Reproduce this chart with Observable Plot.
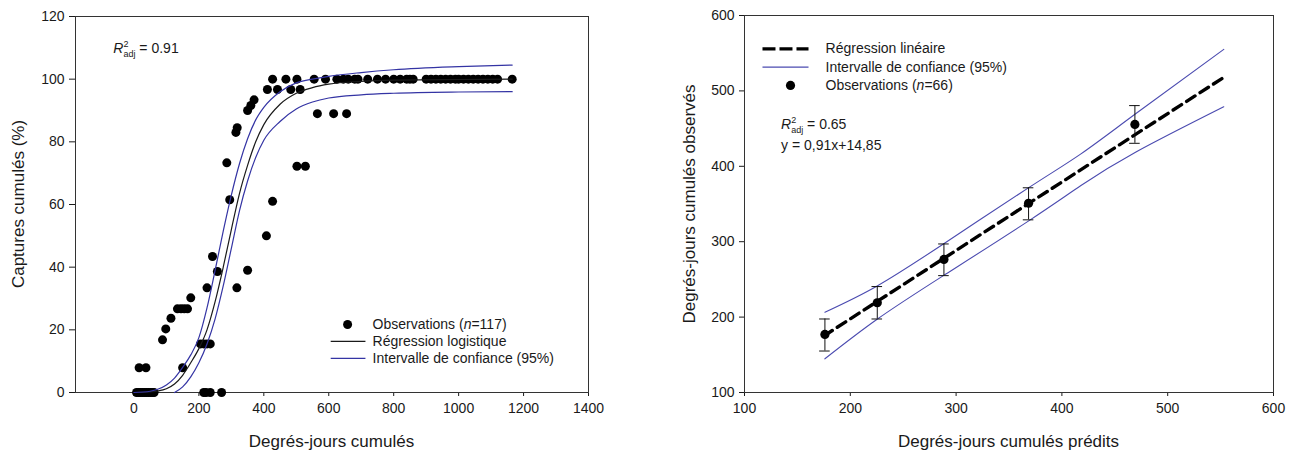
<!DOCTYPE html>
<html><head><meta charset="utf-8">
<script src="https://cdn.jsdelivr.net/npm/d3@7"></script>
<script src="https://cdn.jsdelivr.net/npm/@observablehq/plot@0.6"></script>
<style>
html,body{margin:0;padding:0;background:#fff;overflow:hidden;}
#wrap{position:relative;width:1290px;height:452px;}
#left{position:absolute;left:0;top:0;}
#right{position:absolute;left:645px;top:0;}
</style></head><body><div id="wrap"><div id="left"></div><div id="right"></div></div>
<script>
const FONT = '"Liberation Sans", Arial, Helvetica, sans-serif';

// ---------- Left panel data ----------
const obsX = [8,14,20,26,32,38,44,50,56,62,215,222,235,270,
  16,37,150, 88, 98, 114, 134,145,155,165, 175, 205,215,225,235,
  225, 242, 257, 295, 286, 314, 318, 350, 360, 370, 317, 350, 408, 427, 502, 528,
  411,442,483,512, 565,615,655,
  427,468,502,555,590,625,645,660,680,690,720,750,775,800,820,840,850,860,900,915,930,945,960,975,990,1000,1015,1030,1045,1060,1075,1090,1105,1120,1165];
const obsY = [0,0,0,0,0,0,0,0,0,0,0,0,0,0,
  7.9,7.9,7.9, 16.8, 20.3, 23.7, 26.7,26.7,26.7,26.7, 30.2, 15.5,15.5,15.5,15.5,
  33.4, 43.4, 38.6, 61.5, 73.3, 83, 84.5, 90, 91.6, 93.4, 33.4, 39, 50, 61, 72.2, 72.2,
  96.7,96.7,96.7,96.7, 89,89,89,
  100,100,100,100,100,100,100,100,100,100,100,100,100,100,100,100,100,100,100,100,100,100,100,100,100,100,100,100,100,100,100,100,100,100,100];
const fitX   = [0, 50, 75, 100, 125, 150, 175, 200, 225, 250, 275, 300, 325, 350, 375, 400, 450, 500, 550, 600, 700, 800, 1000, 1165];
const fitY   = [0, 0.2, 0.5, 1.2, 2.7, 5.5, 9.5, 14, 20, 29, 40, 52, 63.5, 72.5, 80, 85.5, 92, 95.5, 97.3, 98.4, 99.3, 99.7, 99.9, 100];
const upperY = [0, 0.4, 1.1, 2.4, 4.6, 8, 12, 17.5, 27, 39, 51.5, 63, 73, 81, 87, 91, 96, 98.8, 100, 100.9, 102.1, 103, 104, 104.5];
const lowerX = [125, 150, 175, 200, 225, 250, 275, 300, 325, 350, 375, 400, 450, 500, 550, 600, 700, 800, 1000, 1165];
const lowerY = [0, 1.8, 5, 9.5, 15.5, 23.5, 34, 46, 58, 67.5, 75, 80.5, 86.5, 90.5, 92.7, 94, 95, 95.5, 95.9, 96];
const leftXTicks = [0,200,400,600,800,1000,1200,1400];
const leftYTicks = [0,20,40,60,80,100,120];
const leftLegend = ["Observations (n=117)", "Régression logistique", "Intervalle de confiance (95%)"];
const leftR2 = "0.91";
const leftXTitle = "Degrés-jours cumulés";
const leftYTitle = "Captures cumulés (%)";

// ---------- Right panel data ----------
const predX   = [176, 225.5, 288.5, 368.5, 469];
const obsMean = [177, 219, 276.5, 351, 455.5];
const errLow  = [155, 197.5, 255, 329, 430.5];
const errHigh = [197.5, 240.5, 297, 371.5, 480.5];
const regX = [175, 553];
const regY = [175, 518];
const ciX     = [176, 225, 288, 369, 418, 470, 553];
const ciUpper = [206.5, 241, 297, 372, 416.5, 470, 555];
const ciLower = [144.7, 196.8, 255, 328, 374.5, 419, 479];
const rightTicks = [100,200,300,400,500,600];
const rightLegend = ["Régression linéaire", "Intervalle de confiance (95%)", "Observations (n=66)"];
const rightR2 = "0.65";
const rightEq = "y = 0,91x+14,85";
const rightXTitle = "Degrés-jours cumulés prédits";
const rightYTitle = "Degrés-jours cumulés observés";

const TXT = "#1a1a1a";
const BLUE_L = "#3434a4";
const BLUE_R = "#4b4bb0";

// ---------- Left plot ----------
const obs = obsX.map((x,i)=>({x, y: obsY[i]}));
const fit = fitX.map((x,i)=>({x, y: fitY[i], u: upperY[i]}));
const low = lowerX.map((x,i)=>({x, y: lowerY[i]}));
const lRows = leftLegend.map((label,i)=>({label, i}));
const lTop = 21.7, lStep = 5.4;

const leftPlot = Plot.plot({
  width: 645, height: 452,
  marginLeft: 75, marginRight: 57, marginTop: 16, marginBottom: 60,
  style: {fontFamily: FONT, fontSize: "14px", color: TXT, background: "white", overflow: "visible"},
  x: {domain: [-180, 1400], ticks: leftXTicks, tickFormat: d => String(d), tickSize: 4, tickPadding: 7, label: null},
  y: {domain: [0, 120], ticks: leftYTicks, tickFormat: d => String(d), tickSize: 6, tickPadding: 5, label: null},
  marks: [
    Plot.frame({stroke: "#333", strokeWidth: 1}),
    Plot.dot(obs, {x: "x", y: "y", r: 4.5, fill: "#000", stroke: "none"}),
    Plot.line(fit, {x: "x", y: "y", stroke: TXT, strokeWidth: 1.2, curve: "monotone-x"}),
    Plot.line(fit, {x: "x", y: "u", stroke: BLUE_L, strokeWidth: 1.2, curve: "monotone-x"}),
    Plot.line(low, {x: "x", y: "y", stroke: BLUE_L, strokeWidth: 1.2, curve: "monotone-x"}),
    // legend
    Plot.dot(lRows.filter(d=>d.i===0), {x: () => 658, y: d => lTop - d.i*lStep, r: 4.5, fill: "#000"}),
    Plot.link(lRows.filter(d=>d.i>0), {x1: () => 606, x2: () => 713, y1: d => lTop - d.i*lStep, y2: d => lTop - d.i*lStep,
      stroke: d => d.i === 1 ? TXT : BLUE_L, strokeWidth: 1.2}),
    Plot.text(lRows, {x: () => 735, y: d => lTop - d.i*lStep, text: "label", textAnchor: "start", fontSize: 14, fill: TXT})
  ]
});
document.getElementById("left").appendChild(leftPlot);

// ---------- Right plot ----------
const pts = predX.map((x,i)=>({x, y: obsMean[i], lo: errLow[i], hi: errHigh[i]}));
const reg = regX.map((x,i)=>({x, y: regY[i]}));
const ci = ciX.map((x,i)=>({x, u: ciUpper[i], l: ciLower[i]}));
const rRows = rightLegend.map((label,i)=>({label, i}));
const rTop = 555.8, rStep = 24.3, cap = 5;

const rightPlot = Plot.plot({
  width: 645, height: 452,
  marginLeft: 99, marginRight: 17, marginTop: 15, marginBottom: 60,
  style: {fontFamily: FONT, fontSize: "14px", color: TXT, background: "white", overflow: "visible"},
  x: {domain: [100, 600], ticks: rightTicks, tickFormat: d => String(d), tickSize: 4, tickPadding: 7, label: null},
  y: {domain: [100, 600], ticks: rightTicks, tickFormat: d => String(d), tickSize: 5, tickPadding: 5, label: null},
  marks: [
    Plot.frame({stroke: "#333", strokeWidth: 1}),
    Plot.line(ci, {x: "x", y: "u", stroke: BLUE_R, strokeWidth: 1.1, curve: "natural"}),
    Plot.line(ci, {x: "x", y: "l", stroke: BLUE_R, strokeWidth: 1.1, curve: "natural"}),
    Plot.line(reg, {x: "x", y: "y", stroke: "#000", strokeWidth: 3.4, strokeDasharray: "10,6"}),
    Plot.ruleX(pts, {x: "x", y1: "lo", y2: "hi", stroke: "#111", strokeWidth: 1}),
    Plot.ruleY(pts, {x1: d => d.x - cap, x2: d => d.x + cap, y: "lo", stroke: "#111", strokeWidth: 1}),
    Plot.ruleY(pts, {x1: d => d.x - cap, x2: d => d.x + cap, y: "hi", stroke: "#111", strokeWidth: 1}),
    Plot.dot(pts, {x: "x", y: "y", r: 4.6, fill: "#000"}),
    // legend
    Plot.link(rRows.filter(d=>d.i===0), {x1: () => 117, x2: () => 160.5, y1: d => rTop - d.i*rStep, y2: d => rTop - d.i*rStep,
      stroke: "#000", strokeWidth: 3.4, strokeDasharray: "13,4"}),
    Plot.link(rRows.filter(d=>d.i===1), {x1: () => 117, x2: () => 160.5, y1: d => rTop - d.i*rStep, y2: d => rTop - d.i*rStep,
      stroke: BLUE_R, strokeWidth: 1.1}),
    Plot.dot(rRows.filter(d=>d.i===2), {x: () => 143.5, y: d => rTop - d.i*rStep, r: 4.6, fill: "#000"}),
    Plot.text(rRows, {x: () => 176.6, y: d => rTop - d.i*rStep, text: "label", textAnchor: "start", fontSize: 14, fill: TXT})
  ]
});
document.getElementById("right").appendChild(rightPlot);

// ---------- Text decorations ----------
function italicN(svg) {
  d3.select(svg).selectAll("text").each(function() {
    const s = this.textContent;
    const m = s.match(/^(.*\()n(=.*)$/);
    if (m && this.children.length === 0) {
      const t = d3.select(this);
      t.text(null);
      t.append("tspan").text(m[1]);
      t.append("tspan").attr("font-style", "italic").text("n");
      t.append("tspan").text(m[2]);
    }
  });
}
italicN(leftPlot); italicN(rightPlot);

function r2(svg, px, py, value) {
  const t = d3.select(svg).append("text").attr("x", px).attr("y", py).attr("text-anchor", "start")
    .attr("font-family", FONT).attr("font-size", 14).attr("fill", TXT);
  t.append("tspan").attr("font-style", "italic").text("R");
  t.append("tspan").attr("font-size", 9).attr("dy", -6).text("2");
  t.append("tspan").attr("font-size", 9).attr("dx", -5).attr("dy", 10).text("adj");
  t.append("tspan").attr("dy", -4).text(" = " + value);
}
function plainText(svg, px, py, s) {
  d3.select(svg).append("text").attr("x", px).attr("y", py).attr("text-anchor", "start")
    .attr("font-family", FONT).attr("font-size", 14).attr("fill", TXT).text(s);
}
function titles(svg, xt, yt, xc, yx) {
  const g = d3.select(svg);
  g.append("text").attr("x", xc).attr("y", 447).attr("text-anchor", "middle")
    .attr("font-family", FONT).attr("font-size", 17).attr("fill", TXT).text(xt);
  g.append("text").attr("transform", `translate(${yx},204) rotate(-90)`).attr("text-anchor", "middle")
    .attr("dy", "0.35em").attr("font-family", FONT).attr("font-size", 17).attr("fill", TXT).text(yt);
}
{
  const sx = leftPlot.scale("x"), sy = leftPlot.scale("y");
  r2(leftPlot, sx.apply(-62), sy.apply(108.3), leftR2);
  titles(leftPlot, leftXTitle, leftYTitle, (sx.apply(-180) + sx.apply(1400)) / 2, 18);
}
{
  const sx = rightPlot.scale("x"), sy = rightPlot.scale("y");
  r2(rightPlot, sx.apply(135), sy.apply(449), rightR2);
  plainText(rightPlot, sx.apply(135), sy.apply(421), rightEq);
  titles(rightPlot, rightXTitle, rightYTitle, (sx.apply(100) + sx.apply(600)) / 2, 44);
}
</script></body></html>
